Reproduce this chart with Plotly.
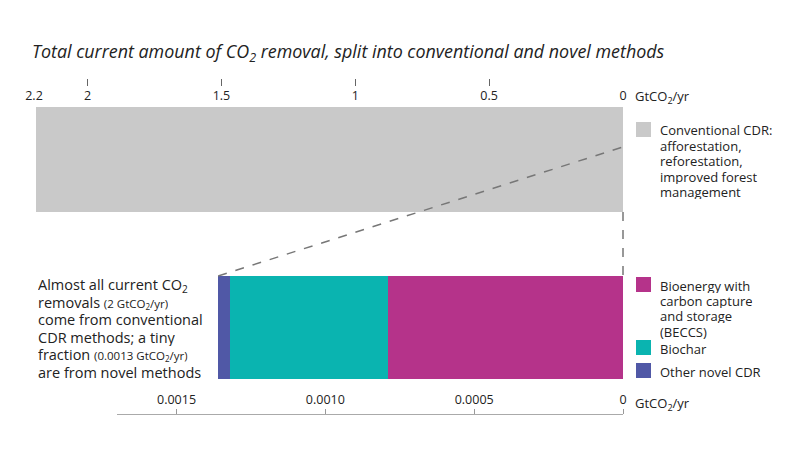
import plotly.graph_objects as go

# ---- data (GtCO2/yr) ----
conv_label = "Conventional CDR:<br>afforestation,<br>reforestation,<br>improved forest<br>management"
conv_value = 2.19
novel_labels = ["Bioenergy with<br>carbon capture<br>and storage<br>(BECCS)", "Biochar", "Other novel CDR"]
novel_values = [0.00079, 0.00053, 0.00004]
top_ticks = [2.2, 2, 1.5, 1, 0.5, 0]
top_ticktext = ["2.2", "2", "1.5", "1", "0.5", "0"]
bot_ticks = [0.0015, 0.0010, 0.0005, 0]
bot_ticktext = ["0.0015", "0.0010", "0.0005", "0"]

novel_colors = ["#b5338a", "#0ab4b0", "#5058a6"]
conv_color = "#c9c9c9"
FONT = "Open Sans"
TXT = "#222222"

W, H = 800, 460
top_dom = [34 / W, 623 / W]
top_rng = [2.2, 0]
bot_dom = [117 / W, 623 / W]
bot_rng = [0.0017, 0]
ytop_dom = [1 - 212 / H, 1 - 107 / H]
ybot_dom = [1 - 379 / H, 1 - 276 / H]

def xpaper(v, dom, rng):
    return dom[0] + (rng[0] - v) / (rng[0] - rng[1]) * (dom[1] - dom[0])

def ypaper(v, dom):
    return dom[0] + (v + 0.5) * (dom[1] - dom[0])

def px(xp):
    return xp / W

def py(yp):
    return 1 - yp / H

fig = go.Figure()
novel_total = sum(novel_values)
fig.add_trace(go.Bar(
    y=["all"], x=[novel_total], orientation="h", xaxis="x", yaxis="y",
    marker=dict(color=novel_colors[0], line=dict(color=novel_colors[0], width=2)),
    showlegend=False, hoverinfo="skip"))
fig.add_trace(go.Bar(
    y=["all"], x=[conv_value], orientation="h", xaxis="x", yaxis="y",
    name=conv_label, marker=dict(color=conv_color, line=dict(width=0)),
    showlegend=False))
for lab, val, col in zip(novel_labels, novel_values, novel_colors):
    fig.add_trace(go.Bar(
        y=["novel"], x=[val], orientation="h", xaxis="x2", yaxis="y2",
        name=lab, marker=dict(color=col, line=dict(width=0)),
        showlegend=False))

# dashed zoom lines
x0_top = xpaper(0, top_dom, top_rng)
x_left_bot = xpaper(novel_total, bot_dom, bot_rng)
fig.add_shape(type="line", xref="paper", yref="paper",
              x0=x0_top, x1=x0_top, y0=ytop_dom[0], y1=ybot_dom[1],
              line=dict(color="#777777", width=1.5, dash="dash"))
fig.add_shape(type="line", xref="paper", yref="paper",
              x0=x_left_bot, x1=x0_top, y0=ybot_dom[1], y1=ypaper(0.12, ytop_dom),
              line=dict(color="#777777", width=1.5, dash="dash"))

ann = []
ann.append(dict(x=px(30), y=py(52), xref="paper", yref="paper", xanchor="left", yanchor="middle",
                showarrow=False,
                text="<i>Total current amount of CO<sub>2</sub> removal, split into conventional and novel methods</i>",
                font=dict(family=FONT, size=17.9, color=TXT)))
for ypx in (97, 404):
    ann.append(dict(x=px(633), y=py(ypx), xref="paper", yref="paper", xanchor="left", yanchor="middle",
                    showarrow=False, text="GtCO<sub>2</sub>/yr",
                    font=dict(family=FONT, size=13, color=TXT)))
small = '<span style="font-size:11.5px">'
left_lines = ["Almost all current CO<sub>2</sub>",
              "removals " + small + "(2 GtCO<sub>2</sub>/yr)</span>",
              "come from conventional",
              "CDR methods; a tiny",
              "fraction " + small + "(0.0013 GtCO<sub>2</sub>/yr)</span>",
              "are from novel methods"]
for i, line in enumerate(left_lines):
    ann.append(dict(x=px(36), y=py(285 + 17.4 * i), xref="paper", yref="paper", height=17,
                    xanchor="left", yanchor="middle", showarrow=False, align="left", text=line,
                    font=dict(family=FONT, size=14.5, color=TXT)))

# legend (keys + labels)
legend_items = [(conv_label, conv_color)] + list(zip(novel_labels, novel_colors))
key_tops = [122, 277, 340, 363]
LS = 15.4
for (lab, col), top in zip(legend_items, key_tops):
    fig.add_shape(type="rect", xref="paper", yref="paper",
                  x0=px(636), x1=px(651), y0=py(top), y1=py(top + 15),
                  fillcolor=col, line=dict(width=0))
    for j, part in enumerate(lab.split("<br>")):
        ann.append(dict(x=px(658), y=py(top + 8 + LS * j), xref="paper", yref="paper", height=15,
                        xanchor="left", yanchor="middle", showarrow=False, align="left", text=part,
                        font=dict(family=FONT, size=13, color=TXT)))

fig.update_layout(
    width=W, height=H, margin=dict(l=0, r=0, t=0, b=0),
    paper_bgcolor="white", plot_bgcolor="rgba(0,0,0,0)",
    barmode="stack", bargap=0, showlegend=False,
    font=dict(family=FONT, size=12, color=TXT),
    annotations=ann,
    xaxis=dict(domain=top_dom, range=top_rng, anchor="free", position=py(86), side="bottom",
               tickvals=top_ticks, ticktext=top_ticktext, ticks="inside", ticklen=7, tickcolor="#666",
               showline=False, showgrid=False, zeroline=False, automargin=False,
               tickfont=dict(family=FONT, size=12.5, color=TXT)),
    yaxis=dict(domain=ytop_dom, anchor="x", visible=False, range=[-0.5, 0.5], type="category"),
    xaxis2=dict(domain=bot_dom, range=bot_rng, anchor="free", position=py(414), side="top",
                tickvals=bot_ticks, ticktext=bot_ticktext, ticks="outside", ticklen=5, tickcolor="#999",
                showline=True, linecolor="#aaaaaa", linewidth=1, showgrid=False, zeroline=False,
                automargin=False, tickfont=dict(family=FONT, size=12.5, color=TXT)),
    yaxis2=dict(domain=ybot_dom, anchor="x2", visible=False, range=[-0.5, 0.5], type="category"),
)

fig.write_html("out.html", config={"displayModeBar": False},
               post_script="document.body.style.margin='0';document.body.style.padding='0';")
